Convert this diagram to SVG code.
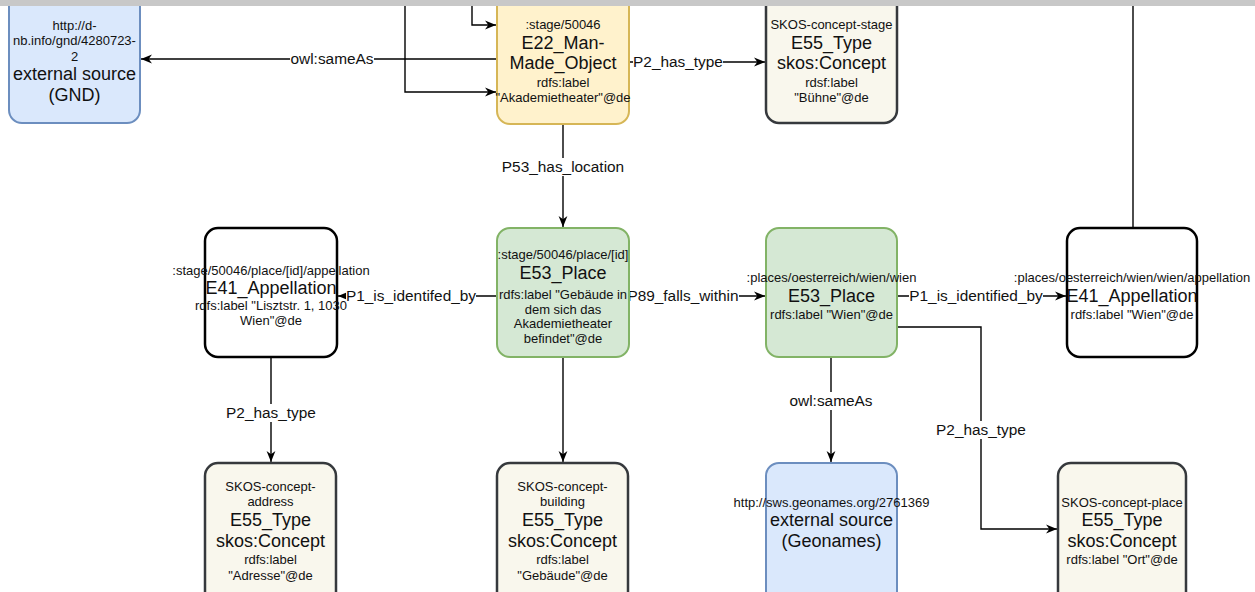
<svg xmlns="http://www.w3.org/2000/svg" width="1255" height="592" viewBox="0 0 1255 592">
<style>
text{font-family:"Liberation Sans",Arial,sans-serif;fill:#111;text-anchor:middle}
.s{font-size:13px}
.b{font-size:18px}
.l{font-size:15.4px}
.ext{fill:#dae8fc;stroke:#6c8ebf;stroke-width:2}
.obj{fill:#fff2cc;stroke:#d6b656;stroke-width:2}
.plc{fill:#d5e8d4;stroke:#82b366;stroke-width:2}
.app{fill:#ffffff;stroke:#000;stroke-width:2.5}
.typ{fill:#f9f7ed;stroke:#36393d;stroke-width:2.5}
.c{fill:none;stroke:#000;stroke-width:1.4}
.lb{fill:#fff}
</style>
<defs>
<marker id="arr" viewBox="0 0 10 10" refX="10" refY="5" markerWidth="11" markerHeight="11" orient="auto" markerUnits="userSpaceOnUse">
<path d="M0,1 L10,5 L0,9 L3,5 z" fill="#000"/>
</marker>
</defs>
<rect x="0" y="0" width="1255" height="592" fill="#fff"/>
<g id="connectors">
<path class="c" d="M497,59 H141" marker-end="url(#arr)"/>
<path class="c" d="M405,0 V92 H496" marker-end="url(#arr)"/>
<path class="c" d="M472,0 V25 H496" marker-end="url(#arr)"/>
<path class="c" d="M629,62 H765" marker-end="url(#arr)"/>
<path class="c" d="M563,124 V227" marker-end="url(#arr)"/>
<path class="c" d="M497,296 H338" marker-end="url(#arr)"/>
<path class="c" d="M629,296 H765" marker-end="url(#arr)"/>
<path class="c" d="M897,296 H1066" marker-end="url(#arr)"/>
<path class="c" d="M1133,0 V228"/>
<path class="c" d="M271,357 V462" marker-end="url(#arr)"/>
<path class="c" d="M563,357 V462" marker-end="url(#arr)"/>
<path class="c" d="M831,357 V462" marker-end="url(#arr)"/>
<path class="c" d="M897,327 H981 V529 H1057" marker-end="url(#arr)"/>
<rect class="lb" x="290" y="50" width="84" height="18"/>
<text class="l" x="332" y="64.4">owl:sameAs</text>
<rect class="lb" x="633" y="53" width="90" height="18"/>
<text class="l" x="678" y="67.4">P2_has_type</text>
<rect class="lb" x="502" y="158" width="122" height="18"/>
<text class="l" x="563" y="172.4">P53_has_location</text>
<rect class="lb" x="346" y="287" width="130" height="18"/>
<text class="l" x="411" y="301.4">P1_is_identifed_by</text>
<rect class="lb" x="628" y="287" width="111" height="18"/>
<text class="l" x="683" y="301.4">P89_falls_within</text>
<rect class="lb" x="909" y="287" width="134" height="18"/>
<text class="l" x="976" y="301.4">P1_is_identified_by</text>
<rect class="lb" x="226" y="404" width="90" height="18"/>
<text class="l" x="271" y="418.4">P2_has_type</text>
<rect class="lb" x="789" y="392" width="84" height="18"/>
<text class="l" x="831" y="406.4">owl:sameAs</text>
<rect class="lb" x="936" y="421" width="90" height="18"/>
<text class="l" x="981" y="435.4">P2_has_type</text>
</g>
<g id="gnd">
<rect class="ext" x="9" y="-20" width="131" height="143" rx="13"/>
<text class="s" x="74.5" y="29.5">http://d-</text>
<text class="s" x="74.5" y="44.5">nb.info/gnd/4280723-</text>
<text class="s" x="74.5" y="60.5">2</text>
<text class="b" x="74.5" y="80.3">external source</text>
<text class="b" x="74.5" y="101.3">(GND)</text>
</g>
<g id="e22">
<rect class="obj" x="497" y="-20" width="132" height="144" rx="13"/>
<text class="s" x="563" y="28.5">:stage/50046</text>
<text class="b" x="563" y="49.3">E22_Man-</text>
<text class="b" x="563" y="69.3">Made_Object</text>
<text class="s" x="563" y="86.5">rdfs:label</text>
<text class="s" x="563" y="101.5">"Akademietheater"@de</text>
</g>
<g id="skos-stage">
<rect class="typ" x="766" y="-20" width="131" height="143" rx="13"/>
<text class="s" x="831.5" y="28.5">SKOS-concept-stage</text>
<text class="b" x="831.5" y="49.3">E55_Type</text>
<text class="b" x="831.5" y="69.3">skos:Concept</text>
<text class="s" x="831.5" y="86.5">rdsf:label</text>
<text class="s" x="831.5" y="101.5">"Bühne"@de</text>
</g>
<g id="e41-left">
<rect class="app" x="205" y="228" width="132" height="129" rx="13"/>
<text class="s" x="271" y="274.5">:stage/50046/place/[id]/appellation</text>
<text class="b" x="271" y="294.3">E41_Appellation</text>
<text class="s" x="271" y="309.5">rdfs:label "Lisztstr. 1, 1030</text>
<text class="s" x="271" y="324.5">Wien"@de</text>
</g>
<g id="e53-place">
<rect class="plc" x="497" y="228" width="132" height="129" rx="13"/>
<text class="s" x="563" y="258.5">:stage/50046/place/[id]</text>
<text class="b" x="563" y="279.3">E53_Place</text>
<text class="s" x="563" y="298.5">rdfs:label "Gebäude in</text>
<text class="s" x="563" y="313.5">dem sich das</text>
<text class="s" x="563" y="327.5">Akademietheater</text>
<text class="s" x="563" y="342.5">befindet"@de</text>
</g>
<g id="e53-wien">
<rect class="plc" x="766" y="228" width="131" height="129" rx="13"/>
<text class="s" x="831.5" y="281.5">:places/oesterreich/wien/wien</text>
<text class="b" x="831.5" y="302.3">E53_Place</text>
<text class="s" x="831.5" y="318.5">rdfs:label "Wien"@de</text>
</g>
<g id="e41-right">
<rect class="app" x="1067" y="228" width="130" height="129" rx="13"/>
<text class="s" x="1132" y="281.5">:places/oesterreich/wien/wien/appellation</text>
<text class="b" x="1132" y="302.3">E41_Appellation</text>
<text class="s" x="1132" y="318.5">rdfs:label "Wien"@de</text>
</g>
<g id="skos-address">
<rect class="typ" x="205" y="463" width="131" height="150" rx="13"/>
<text class="s" x="270.5" y="490.5">SKOS-concept-</text>
<text class="s" x="270.5" y="505.5">address</text>
<text class="b" x="270.5" y="526.3">E55_Type</text>
<text class="b" x="270.5" y="547.3">skos:Concept</text>
<text class="s" x="270.5" y="563.5">rdfs:label</text>
<text class="s" x="270.5" y="579.5">"Adresse"@de</text>
</g>
<g id="skos-building">
<rect class="typ" x="497" y="463" width="131" height="150" rx="13"/>
<text class="s" x="562.5" y="490.5">SKOS-concept-</text>
<text class="s" x="562.5" y="505.5">building</text>
<text class="b" x="562.5" y="526.3">E55_Type</text>
<text class="b" x="562.5" y="547.3">skos:Concept</text>
<text class="s" x="562.5" y="563.5">rdfs:label</text>
<text class="s" x="562.5" y="579.5">"Gebäude"@de</text>
</g>
<g id="geonames">
<rect class="ext" x="766" y="463" width="131" height="150" rx="13"/>
<text class="s" x="831.5" y="506.5">http://sws.geonames.org/2761369</text>
<text class="b" x="831.5" y="526.3">external source</text>
<text class="b" x="831.5" y="547.3">(Geonames)</text>
</g>
<g id="skos-place">
<rect class="typ" x="1058" y="463" width="128" height="150" rx="13"/>
<text class="s" x="1122" y="506.5">SKOS-concept-place</text>
<text class="b" x="1122" y="526.3">E55_Type</text>
<text class="b" x="1122" y="547.3">skos:Concept</text>
<text class="s" x="1122" y="563.5">rdfs:label "Ort"@de</text>
</g>
<rect x="0" y="0" width="1255" height="6" fill="#c8c8c8"/>
</svg>
